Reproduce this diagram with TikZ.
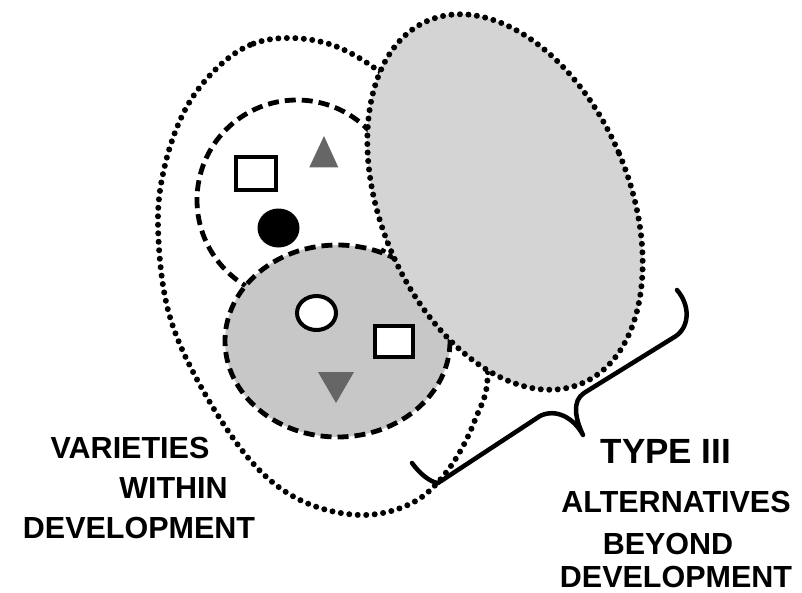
\documentclass[tikz,border=0pt]{standalone}
\usepackage{fontspec}
\setmainfont{Liberation Sans}
\begin{document}
\begin{tikzpicture}[x=1pt,y=-1pt,
  dotline/.style={line width=6pt, dash pattern=on 0pt off 8.5pt, line cap=round},
  dashline/.style={line width=4.8pt, dash pattern=on 11pt off 6pt},
  lbl/.style={font=\fontsize{30.5}{36}\selectfont\bfseries, inner sep=0pt, text=black},
  bigl/.style={font=\fontsize{35}{40}\selectfont\bfseries, inner sep=0pt, text=black},
  boxshape/.style={draw=black, line width=4pt, fill=white},
  tri/.style={fill=black!60, draw=none}]
\path[use as bounding box] (0,0) rectangle (802,592);
% outer dotted region
\draw[dotline, fill=white] plot[smooth cycle, tension=0.6] coordinates {
  (290,38) (250,45) (215,70) (185,110) (165,165) (158,225) (168,310) (200,385) (250,460)
  (300,500) (360,515) (412,503) (448,470) (475,420) (488,365) (475,220) (420,110) (380,72) (335,46)};
% upper white dashed circle
\draw[dashline, fill=white] (297,200) circle [radius=100];
% lower grey dashed circle
\draw[dashline, fill=black!22] (337.5,341) ellipse [x radius=112.5, y radius=96];
% big dotted ellipse
\draw[dotline, fill=black!17, rotate around={23:(505,202)}] (505,202) ellipse [x radius=124, y radius=197];
% shapes in upper circle
\node[boxshape, minimum width=40pt, minimum height=33pt, inner sep=0pt] (r1) at (256,173.5) {};
\fill[tri] (324,136) -- (338.3,167.3) -- (309.3,167.3) -- cycle;
\fill[black] (278.5,228) ellipse [x radius=21, y radius=19.5];
% shapes in lower circle
\draw[line width=4pt, fill=white] (316.5,313) ellipse [x radius=19.5, y radius=17];
\node[boxshape, minimum width=38pt, minimum height=31pt, inner sep=0pt] (r2) at (394,341.5) {};
\fill[tri] (318,372) -- (354,372) -- (336,403) -- cycle;
% brace
\coordinate (b1) at (412,463);
\coordinate (btip) at (583,435);
\coordinate (b2) at (677,290);
\draw[line width=4.5pt, line cap=round, line join=round]
  (b1) .. controls (420,474) and (430,482) .. (438,483) -- (540,416)
  .. controls (556,408) and (574,418) .. (btip)
  .. controls (575,418) and (572,401) .. (584,393) -- (676,336)
  .. controls (690,326) and (690,305) .. (b2);
% labels
\node[lbl] (v1) at (130,448) {VARIETIES};
\node[lbl] (v2) at (173.5,487.5) {WITHIN};
\node[lbl] (v3) at (139,527.5) {DEVELOPMENT};
\node[bigl] (t1) at (666,451) {TYPE III};
\node[lbl] (t2) at (676,501.5) {ALTERNATIVES};
\node[lbl] (t3) at (668,543.5) {BEYOND};
\node[lbl] (t4) at (676,576.5) {DEVELOPMENT};
\end{tikzpicture}
\end{document}
